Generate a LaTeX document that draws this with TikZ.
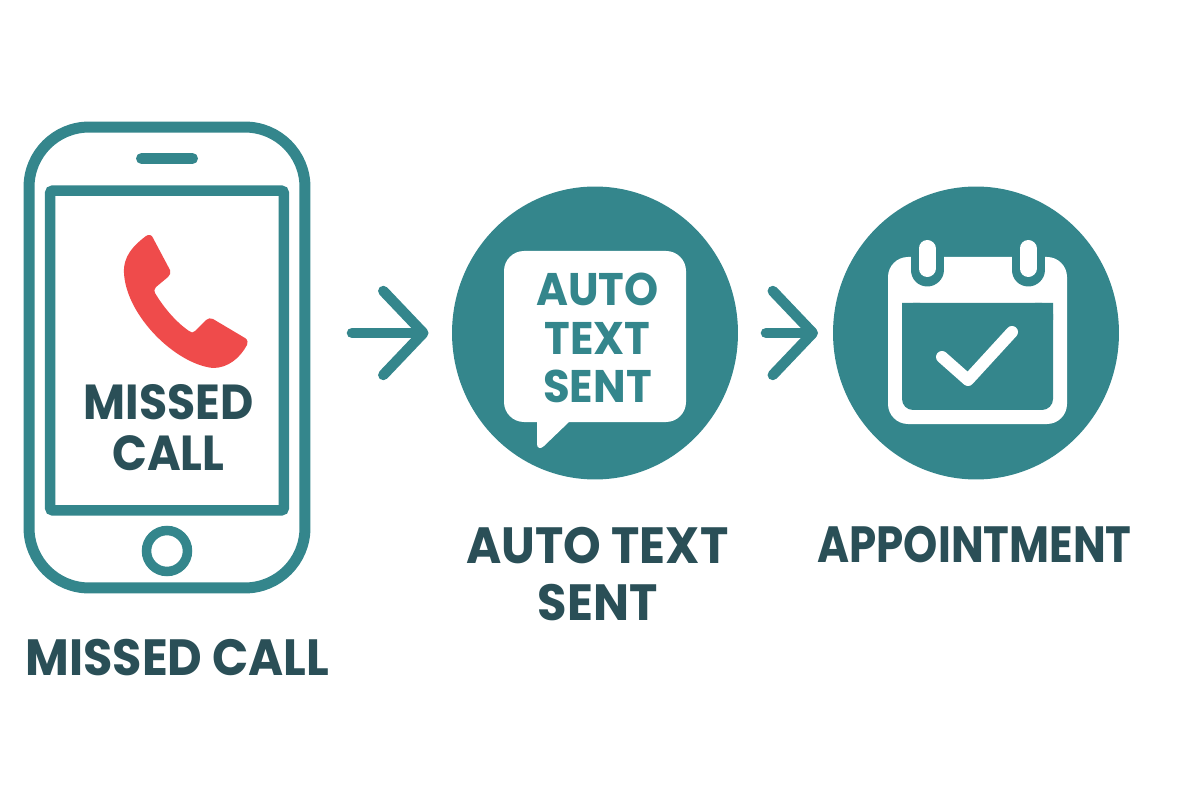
\documentclass[tikz,border=0pt]{standalone}
\usepackage{fontspec}
\setmainfont{Poppins}
\usetikzlibrary{arrows.meta,shapes.geometric}
\definecolor{teal1}{HTML}{34868C}
\definecolor{dark1}{HTML}{2A4F57}
\definecolor{red1}{HTML}{EF4B4B}
\tikzset{
  biglabel/.style={text=dark1,font=\fontsize{29}{32.4}\selectfont\bfseries\addfontfeature{FakeStretch=#1},align=center,inner sep=0pt},
  phonelabel/.style={text=dark1,font=\fontsize{28}{29}\selectfont\bfseries\addfontfeature{FakeStretch=.93},align=center,inner sep=0pt},
  inlabel/.style={text=teal1,font=\fontsize{26}{27.8}\selectfont\bfseries\addfontfeature{FakeStretch=.95},align=center,inner sep=0pt},
  disc/.style={ellipse,fill=teal1,minimum width=5.72cm,minimum height=5.86cm,inner sep=0pt,outer sep=0pt},
  flow/.style={teal1,line width=.21cm,line cap=round,line join=round,
    -{Straight Barb[length=.8cm,width=1.68cm,round]}},
}
\begin{document}
\begin{tikzpicture}[x=0.02cm,y=-0.02cm]
\useasboundingbox (0,0) rectangle (1200,800);
%
% phone
\node[draw=teal1,line width=.22cm,rounded corners=1.2cm,minimum width=5.52cm,minimum height=9.22cm,outer sep=0pt,inner sep=0pt] (phone) at (167,357.5) {};
\node[draw=teal1,line width=.21cm,rounded corners=.06cm,minimum width=4.68cm,minimum height=6.4cm,outer sep=0pt,inner sep=0pt] (screen) at (167,350.5) {};
\draw[teal1,line width=.22cm,line cap=round] (141.5,158.5) -- (192.5,158.5);
\node[circle,draw=teal1,line width=.19cm,minimum size=.82cm,outer sep=0pt,inner sep=0pt] (home) at (167,551) {};
% handset
\fill[red1] (146,236) .. controls (149,234) and (152,235) .. (153,238)
  -- (170,270) .. controls (171,273) and (170,275) .. (168,277)
  -- (156,287) .. controls (154,289) and (154,291) .. (155,293)
  .. controls (164,308) and (176,322) .. (189,331)
  .. controls (191,333) and (193,333) .. (195,331)
  -- (206,320) .. controls (208,318) and (211,318) .. (213,319)
  -- (245,338) .. controls (248,340) and (248,343) .. (247,345)
  .. controls (240,358) and (228,368) .. (213,368)
  .. controls (175,364) and (126,315) .. (124,273)
  .. controls (123,256) and (134,245) .. (146,236) -- cycle;
\node[phonelabel] (missedin) at (168.5,428) {MISSED\\CALL};
%
% bubble
\node[disc] (sms) at (595,333) {};
\fill[white,rounded corners=.4cm] (504,251) rectangle (686,422);
\fill[white,line join=round] (537,415) -- (537,444) .. controls (537,449) and (541,449) .. (544,446) -- (569,422) -- (569,415) -- cycle;
\node[inlabel] (smsin) at (597.5,338) {AUTO\\TEXT\\SENT};
%
% calendar
\node[disc] (cal) at (976,333) {};
\fill[white,rounded corners=.4cm] (888,257) rectangle (1067,424);
\fill[teal1,rounded corners=.22cm] (902,303) -- (1053,303) -- (1053,410) -- (902,410) -- cycle;
\fill[teal1] (902,303) rectangle (920,320) (1035,303) rectangle (1053,320);
\foreach \x in {927,1028}{
  \draw[teal1,line width=.66cm,line cap=round] (\x,240) -- (\x,270);
  \draw[white,line width=.34cm,line cap=round] (\x,248.5) -- (\x,268.5);
}
\draw[white,line width=.24cm,line cap=round,line join=round] (942,357) -- (968,380) -- (1012,332);
%
% arrows
\draw[flow,shorten <=.94cm,shorten >=.47cm] (phone.east |- sms.west) -- (sms.west);
\draw[flow,shorten <=.56cm,shorten >=.3cm] (sms.east) -- (cal.west);
%
% labels
\node[biglabel=.935] (missedlab) at (177.5,658) {MISSED CALL};
\node[biglabel=.94] (smslab) at (597.5,574) {AUTO TEXT\\SENT};
\node[biglabel=.855] (callab) at (974.5,545) {APPOINTMENT};
%
\end{tikzpicture}
\end{document}
